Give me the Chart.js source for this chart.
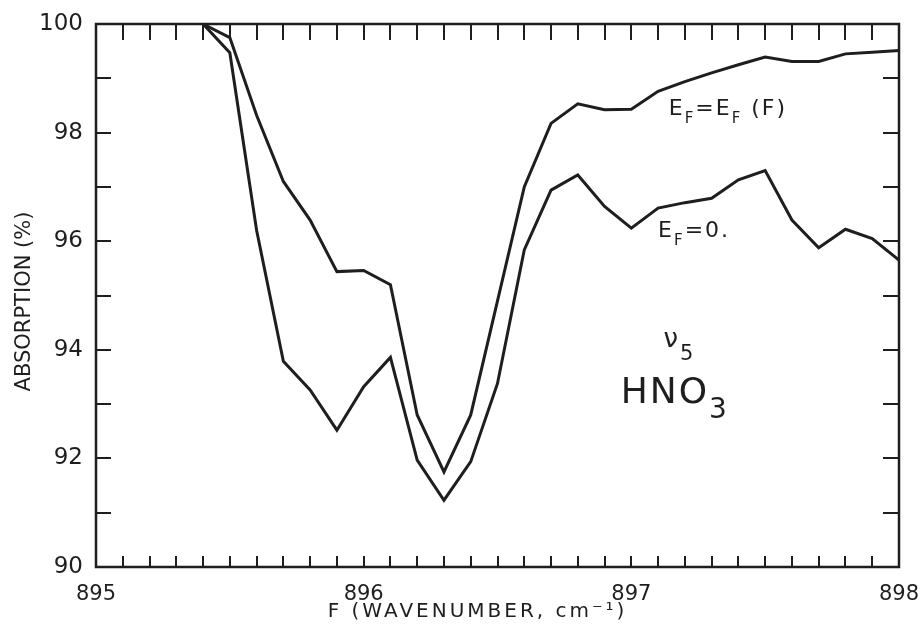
<!DOCTYPE html>
<html>
<head>
<meta charset="utf-8">
<script src="https://cdn.jsdelivr.net/npm/chart.js@4.4.1/dist/chart.umd.min.js"></script>
<style>
html, body { margin: 0; padding: 0; background: #fff; }
</style>
</head>
<body>
<canvas id="myChart" width="922" height="637"></canvas>
<script>
// wavenumber F (cm-1), the curves are sampled every 0.1
const waveNumbers = [895.4, 895.5, 895.6, 895.7, 895.8, 895.9, 896.0, 896.1, 896.2, 896.3,
    896.4, 896.5, 896.6, 896.7, 896.8, 896.9, 897.0, 897.1, 897.2, 897.3,
    897.4, 897.5, 897.6, 897.7, 897.8, 897.9, 898.0];

// absorption (%) with E_F = E_F(F)
const absorptionEfVar = [100.0, 99.75, 98.32, 97.10, 96.39, 95.44, 95.46, 95.20, 92.80, 91.75,
    92.80, 94.90, 97.00, 98.17, 98.53, 98.42, 98.43, 98.76, 98.94, 99.10,
    99.25, 99.39, 99.31, 99.31, 99.45, 99.48, 99.51];

// absorption (%) with E_F = 0.
const absorptionEfZero = [100.0, 99.47, 96.20, 93.79, 93.26, 92.52, 93.32, 93.86, 91.97, 91.23,
    91.94, 93.38, 95.84, 96.94, 97.22, 96.64, 96.24, 96.61, 96.71, 96.79,
    97.13, 97.30, 96.39, 95.88, 96.22, 96.05, 95.65];

const xMin = 895, xMax = 898;
const yMin = 90, yMax = 100;

const ink = '#1e1e1e';
const font = '"DejaVu Sans", sans-serif';

// text written inside the plot, anchored in data units
const notes = [
    { x: 897.14, y: 98.33, parts: [['E', 22, 0], ['F', 15, 8], ['=', 22, 0], ['E', 22, 0], ['F', 15, 8], [' (F)', 22, 0]] },
    { x: 897.10, y: 96.08, parts: [['E', 22, 0], ['F', 15, 8], ['=', 22, 0], ['0.', 22, 0]] },
    { x: 897.12, y: 94.05, parts: [['\u03bd', 26, 0], ['5', 21, 13]] },
    { x: 896.96, y: 93.02, parts: [['HNO', 36, 0], ['3', 28, 15]] }
];

function toPoints(ys) {
    return waveNumbers.map((f, i) => ({ x: f, y: ys[i] }));
}

function drawParts(ctx, x, y, parts) {
    parts.forEach(p => {
        ctx.font = p[1] + 'px ' + font;
        ctx.fillText(p[0], x, y + p[2]);
        x += ctx.measureText(p[0]).width;
    });
}

// fixed box size, and no extra room asked for by the edge labels
function fixBox(s, size) {
    if (s.isHorizontal()) s.height = size; else s.width = size;
    s.paddingLeft = s.paddingRight = s.paddingTop = s.paddingBottom = 0;
}

// empty axis, only used to reserve a fixed margin
function spacer(position, size) {
    return {
        type: 'linear',
        position: position,
        display: true,
        grid: { display: false, drawTicks: false },
        border: { display: false },
        ticks: { display: false },
        afterFit: s => fixBox(s, size)
    };
}

// frame with inward ticks on all four sides
const frameAndTicks = {
    id: 'frameAndTicks',
    afterDatasetsDraw(chart) {
        const { ctx, chartArea: a, scales: { x, y } } = chart;
        ctx.save();
        ctx.strokeStyle = ink;
        ctx.lineWidth = 2;
        ctx.beginPath();
        for (let i = 1; i < 30; i++) {
            const px = Math.round(x.getPixelForValue(xMin + i / 10));
            ctx.moveTo(px, a.top); ctx.lineTo(px, a.top + 16);
            ctx.moveTo(px, a.bottom); ctx.lineTo(px, a.bottom - 11);
        }
        for (let v = yMin + 1; v < yMax; v++) {
            const py = Math.round(y.getPixelForValue(v));
            ctx.moveTo(a.left, py); ctx.lineTo(a.left + 15, py);
            ctx.moveTo(a.right, py); ctx.lineTo(a.right - 16, py);
        }
        ctx.stroke();
        ctx.lineWidth = 2.5;
        ctx.strokeRect(a.left, a.top, a.right - a.left, a.bottom - a.top);
        ctx.restore();
    }
};

// axis titles and the curve labels
const texts = {
    id: 'texts',
    afterDraw(chart) {
        const { ctx, chartArea: a, scales: { x, y } } = chart;
        ctx.save();
        ctx.fillStyle = ink;
        ctx.textBaseline = 'alphabetic';
        ctx.textAlign = 'left';
        ctx.letterSpacing = '2px';
        notes.forEach(n => drawParts(ctx, x.getPixelForValue(n.x), y.getPixelForValue(n.y), n.parts));

        ctx.letterSpacing = '3px';
        ctx.textAlign = 'center';
        ctx.font = '20px ' + font;
        ctx.fillText('F (WAVENUMBER, cm\u207b\u00b9)', (a.left + a.right) / 2 - 20, a.bottom + 50);

        ctx.letterSpacing = '0px';
        ctx.translate(25, (a.top + a.bottom) / 2 + 6);
        ctx.rotate(-Math.PI / 2);
        ctx.textBaseline = 'middle';
        ctx.font = '21px ' + font;
        ctx.fillText('ABSORPTION (%)', 0, 0);
        ctx.restore();
    }
};

const ctx = document.getElementById('myChart').getContext('2d');
const myChart = new Chart(ctx, {
    type: 'line',
    data: {
        datasets: [{
            label: 'E_F = E_F(F)',
            data: toPoints(absorptionEfVar)
        }, {
            label: 'E_F = 0.',
            data: toPoints(absorptionEfZero)
        }]
    },
    options: {
        responsive: false,
        animation: false,
        layout: { padding: 0 },
        elements: {
            line: { borderColor: ink, borderWidth: 3, tension: 0, fill: false },
            point: { radius: 0 }
        },
        datasets: { line: { clip: 4 } },
        plugins: { legend: { display: false }, tooltip: { enabled: false } },
        scales: {
            x: {
                type: 'linear',
                min: xMin,
                max: xMax,
                grid: { display: false, drawTicks: false },
                border: { display: false },
                ticks: { stepSize: 1, color: ink, padding: 15, font: { family: font, size: 21 } },
                afterFit: s => fixBox(s, 70)
            },
            y: {
                min: yMin,
                max: yMax,
                grid: { display: false, drawTicks: false },
                border: { display: false },
                ticks: { stepSize: 2, color: ink, padding: 13, font: { family: font, size: 23 } },
                afterFit: s => fixBox(s, 96)
            },
            xTop: spacer('top', 24),
            yRight: spacer('right', 23)
        }
    },
    plugins: [frameAndTicks, texts]
});
</script>
</body>
</html>
